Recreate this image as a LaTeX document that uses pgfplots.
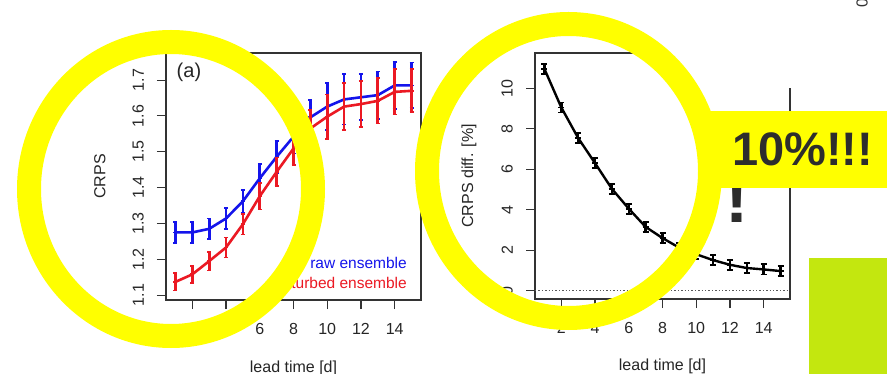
\documentclass[border=0pt]{standalone}
\usepackage{pgfplots}
\pgfplotsset{compat=1.18}
\usepackage{fontspec}
\setmainfont{Liberation Sans}
\definecolor{ringyellow}{RGB}{255,255,0}
\definecolor{limegreen}{RGB}{195,231,15}
\definecolor{darktext}{RGB}{45,45,45}
\definecolor{rblue}{RGB}{20,20,235}
\definecolor{rred}{RGB}{235,25,35}

\pgfplotstableread{
x y e
1 1.275 0.029
2 1.275 0.029
3 1.285 0.029
4 1.314 0.029
5 1.362 0.032
6 1.426 0.040
7 1.486 0.045
8 1.542 0.047
9 1.596 0.048
10 1.626 0.065
11 1.646 0.070
12 1.652 0.064
13 1.658 0.066
14 1.685 0.065
15 1.685 0.064
}\rawens

\pgfplotstableread{
x y e
1 1.137 0.024
2 1.158 0.023
3 1.195 0.026
4 1.233 0.028
5 1.298 0.029
6 1.376 0.037
7 1.444 0.040
8 1.509 0.047
9 1.565 0.052
10 1.598 0.062
11 1.626 0.065
12 1.633 0.065
13 1.642 0.063
14 1.667 0.063
15 1.670 0.060
}\pertens

\pgfplotstableread{
x y e
1 10.95 0.25
2 9.05 0.25
3 7.54 0.25
4 6.30 0.25
5 5.03 0.25
6 4.05 0.25
7 3.15 0.25
8 2.60 0.25
9 2.12 0.25
10 1.80 0.25
11 1.51 0.25
12 1.28 0.25
13 1.12 0.25
14 1.05 0.25
15 0.97 0.25
}\crpsdiff

\newcommand\capw{2pt}
\newcommand\capww{4pt}
\newcommand\barw{2.7pt}

\pgfplotsset{
  error bars/draw error bar/.code 2 args={%
    \draw[line width=\barw] #1 -- #2;
    \draw[line width=1.8pt] #1 ++(-\capw,0pt) -- ++(\capww,0pt);
    \draw[line width=1.8pt] #2 ++(-\capw,0pt) -- ++(\capww,0pt);
  },
  rstyle/.style={
    scale only axis,
    width=255pt,
    anchor=south west,
    xmin=0.44, xmax=15.56,
    xtick={2,4,6,8,10,12,14},
    axis line style={line width=1.1pt, black!80},
    every tick/.style={line width=1.1pt, black!80},
    major tick length=9pt,
    tick align=outside,
    tick pos=left,
    /pgf/number format/assume math mode=true,
    every tick label/.append style={font=\fontsize{16}{19}\selectfont, text=black!85},
    label style={font=\fontsize{16}{19}\selectfont, text=black!85},
    xticklabel style={inner sep=0pt, anchor=north},
    xticklabel shift=14pt,
    yticklabel style={inner sep=0pt, rotate=90, anchor=south},
    yticklabel shift=13pt,
    scaled ticks=false,
    xlabel={lead time [d]},
    xlabel style={at={(axis description cs:0.5,-0.275)}, anchor=center},
    ylabel style={at={(axis description cs:-0.259,0.5)}, anchor=center, rotate=0},
    clip=false,
  }
}

\begin{document}
\begin{tikzpicture}
\path[use as bounding box] (0pt,0pt) rectangle (887pt,-374pt);
\fill[white] (0pt,0pt) rectangle (887pt,-374pt);

% ---------- panel (a) ----------
\begin{axis}[rstyle,
  at={(166pt,-300pt)}, height=247pt,
  ymin=1.0865, ymax=1.7755,
  ytick={1.1,1.2,1.3,1.4,1.5,1.6,1.7},
  yticklabel style={/pgf/number format/fixed, /pgf/number format/precision=1, /pgf/number format/fixed zerofill},
  ylabel={CRPS},
  legend cell align=right,
  legend image code/.code={},
  legend style={draw=none, fill=none, at={(axis description cs:0.953,0.03)}, anchor=south east,
    font=\fontsize{15.5}{20}\selectfont, inner sep=0pt, row sep=4pt},
]
\addplot[rblue, line width=2.6pt, error bars/.cd, y dir=both, y explicit]
  table[x=x, y=y, y error=e]{\rawens};
\addlegendentry[text=rblue]{raw ensemble}
\addplot[rred, line width=2.6pt, error bars/.cd, y dir=both, y explicit]
  table[x=x, y=y, y error=e]{\pertens};
\addlegendentry[text=rred]{perturbed ensemble}
\node[font=\fontsize{20}{24}\selectfont, text=black!85] at (axis description cs:0.090,0.923) {(a)};
\end{axis}

\renewcommand\capw{3pt}
\renewcommand\capww{6pt}
\renewcommand\barw{2.4pt}
% ---------- panel (b) ----------
\begin{axis}[rstyle,
  at={(535pt,-299pt)}, height=246pt,
  ymin=-0.41, ymax=11.74,
  ytick={0,2,4,6,8,10},
  ylabel={CRPS diff. [\%]},
]
\addplot[black!65, dotted, line width=1.4pt] coordinates {(0.44,0) (15.56,0)};
\addplot[black, line width=2.4pt, error bars/.cd, y dir=both, y explicit]
  table[x=x, y=y, y error=e]{\crpsdiff};
\end{axis}

% ---------- slide overlays ----------
\fill[white] (650pt,0pt) rectangle (887pt,-88pt);
\node[anchor=base, font=\bfseries\fontsize{70}{80}\selectfont, text=darktext] at (737pt,-223pt) {!};
\draw[ringyellow, line width=24pt] (171pt,-189pt) ellipse [x radius=142pt, y radius=147pt];
\draw[ringyellow, line width=24pt] (568.5pt,-171pt) ellipse [x radius=141.5pt, y radius=147pt];
\fill[ringyellow] (705pt,-111pt) rectangle (887pt,-188pt);
\node[anchor=base west, inner sep=0pt, font=\bfseries\fontsize{47}{56}\selectfont, text=darktext] at (732pt,-166pt) {10\%!!!};
\fill[limegreen] (809pt,-258pt) rectangle (887pt,-374pt);
\node[rotate=90, inner sep=0pt, font=\fontsize{16}{19}\selectfont, text=black!80] at (862pt,-3pt) {0};
\end{tikzpicture}
\end{document}
